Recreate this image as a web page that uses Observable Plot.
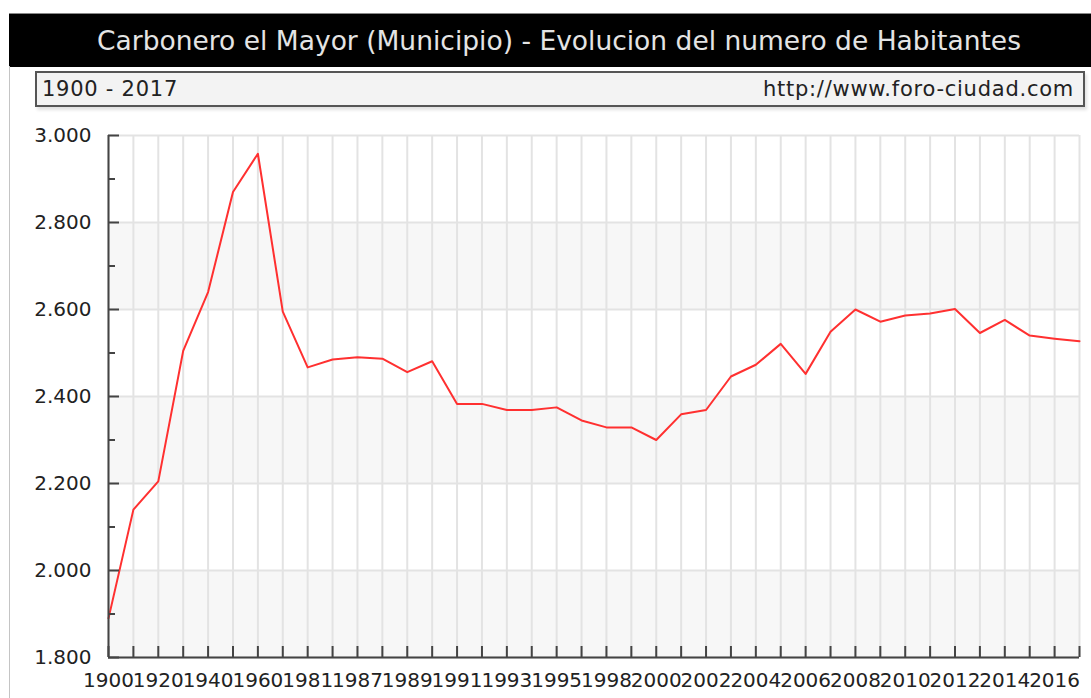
<!DOCTYPE html>
<html>
<head>
<meta charset="utf-8">
<script src="https://cdn.jsdelivr.net/npm/d3@7"></script>
<script src="https://cdn.jsdelivr.net/npm/@observablehq/plot@0.6"></script>
<style>
  html, body { margin: 0; padding: 0; background: #fff; overflow: hidden; width: 1091px; height: 698px; }
  body { position: relative; font-family: "DejaVu Sans", Verdana, sans-serif; }
  #border { position: absolute; left: 9px; top: 66px; width: 1px; height: 640px; background: #c4c4c4; z-index: 2; }
  #title { position: absolute; left: 9px; top: 13px; width: 1082px; height: 54px; background: #000; color: #e4e4e4;
           font-size: 26.5px; line-height: 54px; text-align: center; white-space: nowrap; border-top: 1px solid #888; box-sizing: border-box; padding-left: 18px; }
  #sub { position: absolute; left: 35px; top: 71px; width: 1050px; height: 36px; box-sizing: border-box;
         border: 2px solid #555; background: #f3f3f3; box-shadow: 2px 3px 3px rgba(0,0,0,0.12);
         font-size: 21px; letter-spacing: 0.75px; color: #222; line-height: 32px; }
  #sub .l { position: absolute; left: 5px; top: 0; }
  #sub .r { position: absolute; right: 9px; top: 0; }
  #chart { position: absolute; left: 0; top: 115px; }
</style>
</head>
<body>
<div id="title"></div>
<div id="sub"><span class="l"></span><span class="r"></span></div>
<div id="border"></div>
<div id="chart"></div>
<script>
const titleText = "Carbonero el Mayor (Municipio) - Evolucion del numero de Habitantes";
const periodText = "1900 - 2017";
const sourceText = "http://www.foro-ciudad.com";

const years = ["1900","1910","1920","1930","1940","1950","1960","1970","1981","1986",
  "1987","1988","1989","1990","1991","1992","1993","1994","1995","1996",
  "1998","1999","2000","2001","2002","2003","2004","2005","2006","2007",
  "2008","2009","2010","2011","2012","2013","2014","2015","2016","2017"];
const habitantes = [1890, 2140, 2205, 2505, 2640, 2870, 2958, 2595, 2467, 2485,
  2490, 2487, 2456, 2481, 2383, 2383, 2369, 2369, 2375, 2345,
  2329, 2329, 2300, 2359, 2369, 2446, 2473, 2521, 2452, 2549,
  2600, 2572, 2586, 2591, 2601, 2546, 2576, 2540, 2533, 2527];
const yMajorTicks = [1800, 2000, 2200, 2400, 2600, 2800, 3000];
const yMinorTicks = [1900, 2100, 2300, 2500, 2700, 2900];
const shadedBands = [[1800, 2000], [2200, 2400], [2600, 2800]];

document.getElementById("title").textContent = titleText;
document.querySelector("#sub .l").textContent = periodText;
document.querySelector("#sub .r").textContent = sourceText;

const data = years.map((y, i) => ({year: y, value: habitantes[i]}));
const bands = shadedBands.map(([a, b]) => ({y1: a, y2: b}));
const fmt = v => d3.format(",")(v).replace(/,/g, ".");

const chart = Plot.plot({
  width: 1091,
  height: 583,
  marginLeft: 108,
  marginRight: 12,
  marginTop: 20,
  marginBottom: 41,
  style: { background: "transparent", fontFamily: "DejaVu Sans, Verdana, sans-serif", fontSize: "20px", color: "#222", overflow: "visible" },
  x: { type: "point", domain: years, padding: 0 },
  y: { domain: [1800, 3000] },
  marks: [
    Plot.rect(bands, { y1: "y1", y2: "y2", fill: "#f7f7f7" }),
    Plot.ruleX(years, { stroke: "#e3e3e3", strokeWidth: 2 }),
    Plot.ruleY(yMajorTicks, { stroke: "#e3e3e3", strokeWidth: 2 }),
    Plot.line(data, { x: "year", y: "value", stroke: "#ff3030", strokeWidth: 2 }),
    Plot.axisX({ tickSize: -11, tickPadding: 26, stroke: "#444", strokeWidth: 2,
                 tickFormat: (d, i) => (i % 2 === 0 ? d : ""), label: null, fill: "#222" }),
    Plot.axisY({ ticks: yMajorTicks, tickSize: -11, tickPadding: 28, stroke: "#444", strokeWidth: 2,
                 tickFormat: fmt, label: null, fill: "#222", style: { letterSpacing: "0.4px" } }),
    Plot.axisY({ ticks: yMinorTicks, tickSize: -7, stroke: "#444", strokeWidth: 2,
                 tickFormat: () => "", label: null }),
    Plot.ruleX([years[0]], { stroke: "#444", strokeWidth: 2 }),
    Plot.ruleY([1800], { stroke: "#444", strokeWidth: 2 })
  ]
});
document.getElementById("chart").appendChild(chart);
</script>
</body>
</html>
